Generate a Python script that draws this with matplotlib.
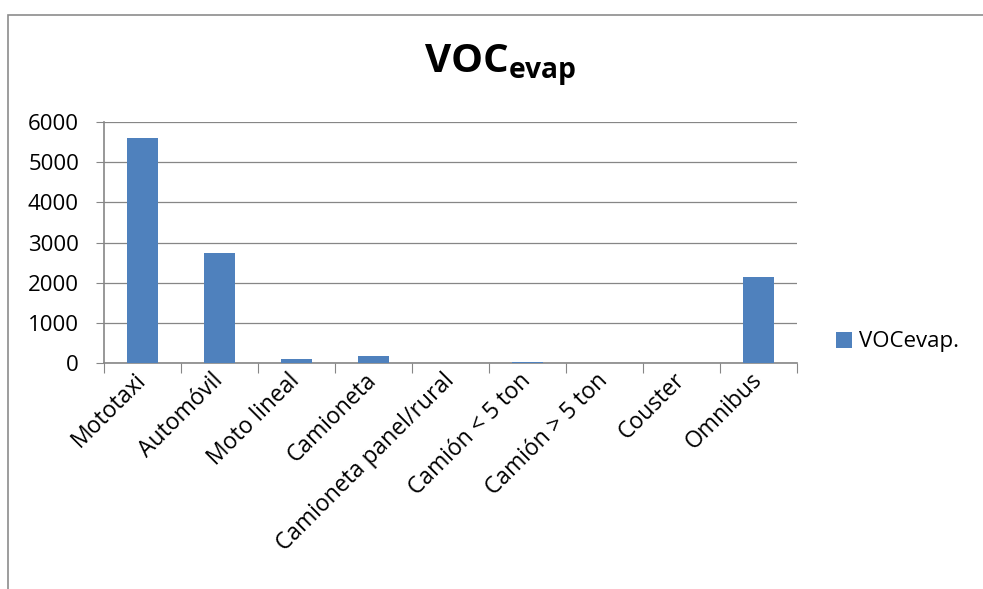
import matplotlib
matplotlib.use("Agg")
import matplotlib.pyplot as plt
from matplotlib.patches import Rectangle

categories = ["Mototaxi", "Automóvil", "Moto lineal", "Camioneta",
              "Camioneta panel/rural", "Camión < 5 ton", "Camión > 5 ton",
              "Couster", "Omnibus"]
voc_evap = [5610, 2740, 100, 170, 0, 20, 0, 0, 2150]
series_label = "VOCevap."
yticks = [0, 1000, 2000, 3000, 4000, 5000, 6000]

BAR = "#4F81BD"
GRID = "#868686"

plt.rcParams["font.family"] = ["Open Sans", "DejaVu Sans"]
plt.rcParams["mathtext.fontset"] = "custom"
plt.rcParams["mathtext.bf"] = "Open Sans:bold"

W, H = 983, 589
fig = plt.figure(figsize=(W / 100, H / 100), dpi=100)
# plot area in pixels: x 104..797, y 122..363
ax = fig.add_axes([104 / W, 1 - 363 / H, (797 - 104) / W, (363 - 122) / H])

xs = range(len(categories))
ax.bar(xs, voc_evap, width=0.4, color=BAR, label=series_label, zorder=3)

ax.set_xlim(-0.5, len(categories) - 0.5)
ax.set_ylim(0, 6000)
ax.set_yticks(yticks)
ax.tick_params(axis="y", labelsize=16, length=6, color=GRID, pad=12)
ax.yaxis.grid(True, color=GRID, linewidth=0.9, zorder=0)

ax.set_xticks([i - 0.5 for i in range(len(categories) + 1)])
ax.set_xticklabels([])
ax.tick_params(axis="x", length=7, color=GRID)
ax.set_xticks(list(xs), minor=True)
ax.set_xticklabels(categories, minor=True, rotation=45, ha="right",
                   va="center", rotation_mode="anchor", fontsize=16.5)
ax.tick_params(axis="x", which="minor", length=0, pad=10)

for s in ("top", "right"):
    ax.spines[s].set_visible(False)
for s in ("left", "bottom"):
    ax.spines[s].set_color(GRID)
    ax.spines[s].set_linewidth(1.2)

ax.legend(loc="center left", bbox_to_anchor=(836 / W, 1 - 342 / H),
          bbox_transform=fig.transFigure, frameon=False, borderpad=0,
          borderaxespad=0, fontsize=16, handlelength=0.7, handleheight=0.7,
          handletextpad=0.35)

fig.text(500 / W, 1 - 66 / H, r"$\mathbf{VOC}_{\mathbf{evap}}$", ha="center",
         va="center", fontsize=29)

fig.patches.append(Rectangle((8 / W, -0.1), 1.2, 1 - 15 / H + 0.1,
                             transform=fig.transFigure, fill=False,
                             edgecolor="#8c8c8c", linewidth=1.2))

fig.savefig("out.png", dpi=100)
